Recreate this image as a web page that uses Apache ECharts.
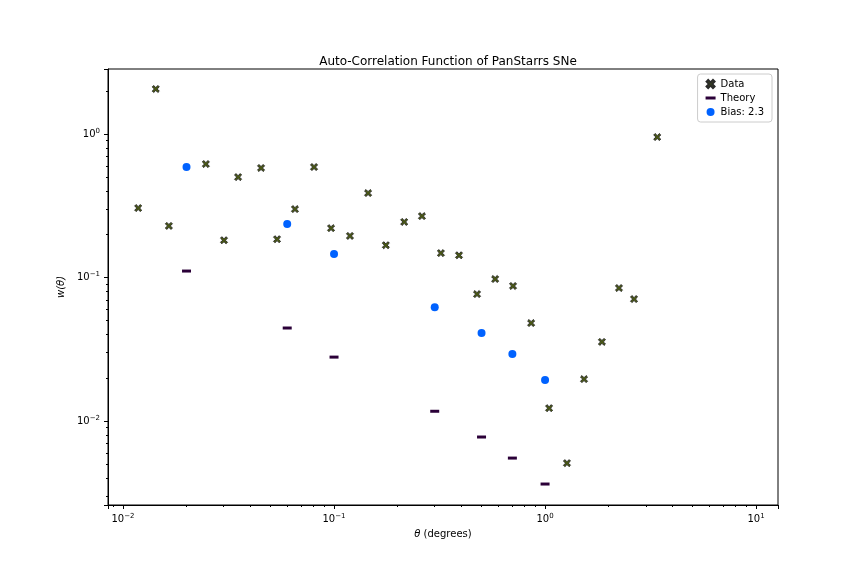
<!DOCTYPE html>
<html>
<head>
<meta charset="utf-8">
<title>Auto-Correlation Function of PanStarrs SNe</title>
<script src="https://cdn.jsdelivr.net/npm/echarts@6.0.0/dist/echarts.min.js"></script>
</head>
<body style="margin:0">
<div id="chart" style="width:864px;height:576px;"></div>
<script>
// values
const dataTheta = [0.0118,0.0143,0.0165,0.0247,0.0301,0.0351,0.0451,0.0537,0.0653,0.0804,0.0968,0.119,0.145,0.176,0.215,0.261,0.321,0.391,0.476,0.580,0.705,0.859,1.045,1.27,1.53,1.86,2.24,2.64,3.40];
const dataW = [0.305,2.06,0.229,0.618,0.182,0.501,0.580,0.185,0.300,0.589,0.221,0.195,0.388,0.168,0.244,0.268,0.148,0.143,0.0767,0.0977,0.0873,0.0482,0.0123,0.00509,0.0196,0.0356,0.0845,0.0708,0.953];
const modelTheta = [0.02,0.06,0.1,0.3,0.5,0.7,1.0];
const theoryW = [0.111,0.0445,0.0279,0.0117,0.00774,0.00552,0.00364];
const biasW = [0.589,0.236,0.146,0.0622,0.0411,0.0293,0.0193];

const zip = (a, b) => a.map((v, i) => [v, b[i]]);
const font = 'DejaVu Sans';
const xPath = 'path://M0,2L2,0L5,3L8,0L10,2L7,5L10,8L8,10L5,7L2,10L0,8L3,5Z';

function powLabel(v) {
  const e = Math.log10(v);
  if (Math.abs(e - Math.round(e)) > 1e-6) return '';
  const n = Math.round(e);
  return '{b|10}{s|' + (n < 0 ? '\u2212' + (-n) : n) + '}';
}
const rich = {
  b: { fontFamily: font, fontSize: 10, color: '#000' },
  s: { fontFamily: font, fontSize: 7, color: '#000', verticalAlign: 'top', padding: [0, 0, 6, 0] }
};
const axisCommon = {
  type: 'log', logBase: 10,
  axisLine: { onZero: false, lineStyle: { color: '#000' } },
  axisTick: { show: true, length: 4, lineStyle: { color: '#000' } },
  minorTick: { show: true, splitNumber: 9, length: 2, lineStyle: { color: '#000' } },
  splitLine: { show: false },
  axisLabel: { formatter: powLabel, rich: rich, showMinLabel: false, showMaxLabel: false },
  nameTextStyle: { fontFamily: font, fontSize: 10, color: '#000' }
};

const chart = echarts.init(document.getElementById('chart'));
chart.setOption({
  animation: false,
  backgroundColor: '#fff',
  title: {
    text: 'Auto-Correlation Function of PanStarrs SNe',
    left: 443, top: 51, textAlign: 'center',
    textStyle: { fontFamily: font, fontSize: 12, fontWeight: 'normal', color: '#000' }
  },
  grid: { left: 108, right: 86, top: 69, bottom: 71, show: true, borderColor: '#000', borderWidth: 1 },
  legend: {
    right: 92, top: 74, orient: 'vertical', itemGap: 4,
    backgroundColor: '#fff', borderColor: '#ccc', borderWidth: 1, borderRadius: 3, padding: [5, 8, 5, 8],
    itemWidth: 10, itemHeight: 8,
    textStyle: { fontFamily: font, fontSize: 10, color: '#000' },
    data: [
      { name: 'Data', icon: xPath },
      { name: 'Theory', icon: 'path://M0,0L10,0L10,3L0,3Z' },
      { name: 'Bias: 2.3', icon: 'circle' }
    ]
  },
  xAxis: Object.assign({}, axisCommon, {
    min: 0.00849, max: 12.7,
    name: '{i|θ} (degrees)', nameLocation: 'middle', nameGap: 22,
    nameTextStyle: { fontFamily: font, fontSize: 10, color: '#000', rich: { i: { fontStyle: 'italic', fontFamily: font, fontSize: 10 } } }
  }),
  yAxis: Object.assign({}, axisCommon, {
    min: 0.0026, max: 2.84,
    name: 'w(θ)', nameLocation: 'middle', nameGap: 38,
    nameTextStyle: { fontFamily: font, fontSize: 10, color: '#000', fontStyle: 'italic' }
  }),
  series: [
    {
      name: 'Data', type: 'scatter', data: zip(dataTheta, dataW),
      symbol: xPath, symbolSize: 7,
      itemStyle: { color: '#4a5a10', borderColor: '#2a2a2a', borderWidth: 1, opacity: 1 }
    },
    {
      name: 'Theory', type: 'scatter', data: zip(modelTheta, theoryW),
      symbol: 'rect', symbolSize: [9, 3],
      itemStyle: { color: '#2b0038', opacity: 1 }
    },
    {
      name: 'Bias: 2.3', type: 'scatter', data: zip(modelTheta, biasW),
      symbol: 'circle', symbolSize: 8,
      itemStyle: { color: '#0062ff', opacity: 1 }
    }
  ]
});
</script>
</body>
</html>
